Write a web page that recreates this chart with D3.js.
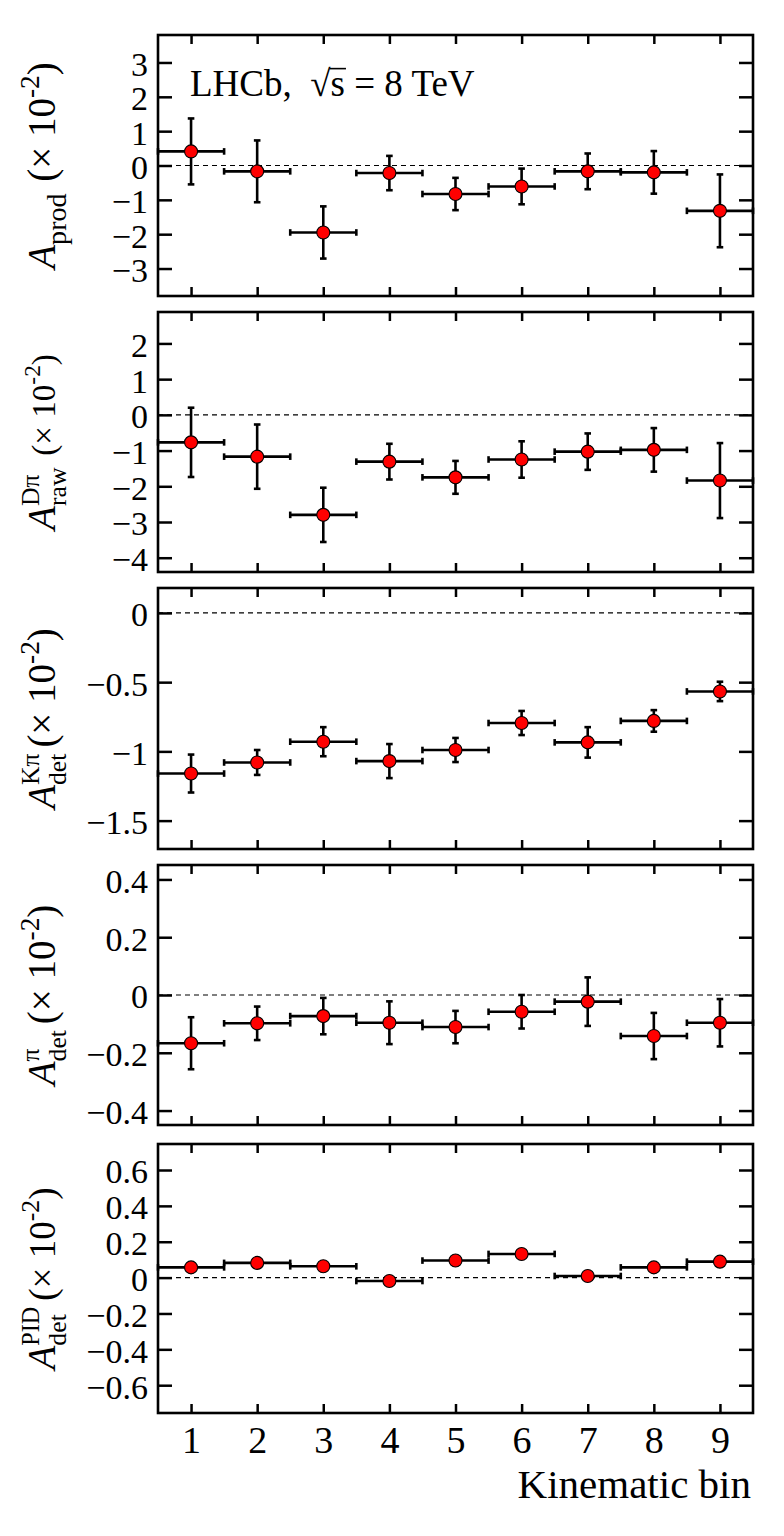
<!DOCTYPE html>
<html>
<head>
<meta charset="utf-8">
<script src="https://cdn.jsdelivr.net/npm/d3@7"></script>
<style>
  html, body { margin: 0; padding: 0; background: #fff; }
  svg text { white-space: pre; font-family: 'Liberation Serif', 'Times New Roman', serif; }
</style>
</head>
<body>
<svg id="chart" width="784" height="1536"></svg>
<script>
// ---------------- DATA ----------------
const bins = [1, 2, 3, 4, 5, 6, 7, 8, 9];
const xTickLabels = ["1", "2", "3", "4", "5", "6", "7", "8", "9"];

const prodVal = [0.41, -0.17, -1.95, -0.22, -0.83, -0.61, -0.17, -0.20, -1.32];
const prodErr = [0.96, 0.90, 0.76, 0.50, 0.47, 0.52, 0.52, 0.62, 1.06];
const prodTicks = [3, 2, 1, 0, -1, -2, -3];

const rawVal = [-0.77, -1.17, -2.80, -1.31, -1.75, -1.25, -1.03, -0.98, -1.84];
const rawErr = [0.97, 0.90, 0.76, 0.50, 0.46, 0.51, 0.51, 0.61, 1.05];
const rawTicks = [2, 1, 0, -1, -2, -3, -4];

const kpiVal = [-1.16, -1.08, -0.93, -1.07, -0.99, -0.795, -0.935, -0.78, -0.567];
const kpiErr = [0.137, 0.090, 0.105, 0.123, 0.087, 0.087, 0.110, 0.078, 0.070];
const kpiTicks = [0, -0.5, -1, -1.5];

const piVal = [-0.167, -0.098, -0.073, -0.096, -0.111, -0.058, -0.023, -0.142, -0.096];
const piErr = [0.090, 0.058, 0.063, 0.074, 0.056, 0.058, 0.084, 0.080, 0.082];
const piTicks = [0.4, 0.2, 0, -0.2, -0.4];

const pidVal = [0.057, 0.082, 0.063, -0.019, 0.095, 0.132, 0.009, 0.057, 0.089];
const pidErr = [0.020, 0.020, 0.020, 0.020, 0.020, 0.020, 0.020, 0.020, 0.020];
const pidTicks = [0.6, 0.4, 0.2, 0, -0.2, -0.4, -0.6];

const binHalfWidth = 0.5;

// ---------------- LAYOUT ----------------
const FONT = "'Liberation Serif', 'Times New Roman', serif";
const svg = d3.select("#chart");
const xL = 158, xR = 753;
const x = d3.scaleLinear().domain([0.5, 9.5]).range([xL, xR]);

const minus = s => s.replace("-", "\u2212");
const fmt = v => minus(String(v));

const panels = [
  { val: prodVal, err: prodErr, ticks: prodTicks, dom: [-3.8, 3.8], top: 35, bot: 296,
    title: [{t:"A", it:true}, {t:"prod", sc:0.72, dy:0.28}, {gap:0.3}, {t:"(\u00d7 10"}, {t:"-2", sc:0.7, dy:-0.42}, {t:")"}] },
  { val: rawVal, err: rawErr, ticks: rawTicks, dom: [-4.4, 2.88], top: 312, bot: 572,
    title: [{t:"A", it:true}, {t:"D\u03c0", sc:0.66, dy:-0.42}, {t:"raw", sc:0.66, dy:0.28, stack:true}, {gap:0.3}, {t:"(\u00d7 10", sc:0.85}, {t:"-2", sc:0.6, dy:-0.38}, {t:")", sc:0.85}] },
  { val: kpiVal, err: kpiErr, ticks: kpiTicks, dom: [-1.705, 0.18], top: 588, bot: 849,
    title: [{t:"A", it:true}, {t:"K\u03c0", sc:0.66, dy:-0.42}, {t:"det", sc:0.66, dy:0.28, stack:true}, {gap:0.15}, {t:"(\u00d7 10"}, {t:"-2", sc:0.7, dy:-0.42}, {t:")"}] },
  { val: piVal, err: piErr, ticks: piTicks, dom: [-0.45, 0.45], top: 865, bot: 1125,
    title: [{t:"A", it:true}, {t:"\u03c0", sc:0.66, dy:-0.42}, {t:"det", sc:0.66, dy:0.28, stack:true}, {gap:0.15}, {t:"(\u00d7 10"}, {t:"-2", sc:0.7, dy:-0.42}, {t:")"}] },
  { val: pidVal, err: pidErr, ticks: pidTicks, dom: [-0.755, 0.745], top: 1144, bot: 1413,
    title: [{t:"A", it:true}, {t:"PID", sc:0.62, dy:-0.42}, {t:"det", sc:0.66, dy:0.28, stack:true}, {gap:0.15}, {t:"(\u00d7 10", sc:0.95}, {t:"-2", sc:0.66, dy:-0.42}, {t:")", sc:0.95}] }
];

// inline rich-text layout helper; returns total width
function layout(g, segs, base) {
  let cur = 0, lastStart = 0, lastEnd = 0;
  segs.forEach(s => {
    if (s.gap !== undefined) { cur += s.gap * base; lastStart = cur; lastEnd = cur; return; }
    const fs = base * (s.sc || 1);
    const t = g.append("text")
      .attr("font-family", FONT)
      .attr("font-size", fs)
      .attr("font-style", s.it ? "italic" : "normal")
      .attr("y", (s.dy || 0) * base)
      .attr("fill", "#000")
      .text(s.t);
    const w = t.node().getComputedTextLength();
    const x0 = s.stack ? lastStart : cur;
    t.attr("x", x0);
    if (s.over) {
      g.append("line").attr("x1", x0 - 1).attr("x2", x0 + w + 1)
        .attr("y1", (s.dy || 0) * base - 0.74 * fs).attr("y2", (s.dy || 0) * base - 0.74 * fs)
        .attr("stroke", "#000").attr("stroke-width", 1.6);
    }
    if (s.stack) { cur = Math.max(lastEnd, x0 + w); lastEnd = cur; }
    else { lastStart = x0; lastEnd = x0 + w; cur = x0 + w; }
  });
  return cur;
}

panels.forEach((p, pi) => {
  const y = d3.scaleLinear().domain(p.dom).range([p.bot, p.top]);
  const g = svg.append("g");

  // zero reference line
  g.append("line")
    .attr("x1", xL).attr("x2", xR).attr("y1", y(0)).attr("y2", y(0))
    .attr("stroke", "#000").attr("stroke-width", 1.2).attr("stroke-dasharray", "5,4");

  const data = bins.map((b, i) => ({ b, v: p.val[i], e: p.err[i] }));
  const lw = 2.6, cap = 3.3;
  const eb = g.append("g").attr("stroke", "#000").attr("stroke-width", lw).attr("fill", "none");
  data.forEach(d => {
    const cx = x(d.b), cy = y(d.v);
    const xa = x(d.b - binHalfWidth), xb = x(d.b + binHalfWidth);
    const ya = y(d.v + d.e), yb = y(d.v - d.e);
    eb.append("line").attr("x1", xa).attr("x2", xb).attr("y1", cy).attr("y2", cy);
    eb.append("line").attr("x1", cx).attr("x2", cx).attr("y1", ya).attr("y2", yb);
    // caps
    eb.append("line").attr("x1", xa).attr("x2", xa).attr("y1", cy - cap).attr("y2", cy + cap);
    eb.append("line").attr("x1", xb).attr("x2", xb).attr("y1", cy - cap).attr("y2", cy + cap);
    eb.append("line").attr("x1", cx - cap).attr("x2", cx + cap).attr("y1", ya).attr("y2", ya);
    eb.append("line").attr("x1", cx - cap).attr("x2", cx + cap).attr("y1", yb).attr("y2", yb);
  });
  g.selectAll("circle.m").data(data).join("circle")
    .attr("cx", d => x(d.b)).attr("cy", d => y(d.v)).attr("r", 6.5)
    .attr("fill", "#ff0000").attr("stroke", "#000").attr("stroke-width", 1.1);

  // axes
  const isLast = pi === panels.length - 1;
  const yAxL = d3.axisLeft(y).tickValues(p.ticks).tickSize(-14).tickPadding(10).tickFormat(fmt);
  const yAxR = d3.axisRight(y).tickValues(p.ticks).tickSize(-14).tickFormat("");
  const xAxT = d3.axisTop(x).tickValues(bins).tickSize(-9).tickFormat("");
  const xAxB = d3.axisBottom(x).tickValues(bins).tickSize(-9).tickPadding(13)
      .tickFormat(isLast ? (d, i) => xTickLabels[i] : "");

  const axes = [
    g.append("g").attr("transform", `translate(${xL},0)`).call(yAxL),
    g.append("g").attr("transform", `translate(${xR},0)`).call(yAxR),
    g.append("g").attr("transform", `translate(0,${p.top})`).call(xAxT),
    g.append("g").attr("transform", `translate(0,${p.bot})`).call(xAxB)
  ];
  axes.forEach(a => {
    a.attr("font-family", FONT);
    a.select(".domain").remove();
    a.selectAll(".tick line").attr("stroke", "#000").attr("stroke-width", 2.5);
    a.selectAll(".tick text").attr("font-family", FONT).attr("fill", "#000");
  });
  axes[0].attr("font-size", 34).selectAll(".tick text").attr("font-size", 34).attr("dy", "0.38em");
  axes[3].attr("font-size", 38).selectAll(".tick text").attr("font-size", 38);

  // frame
  g.append("rect").attr("x", xL).attr("y", p.top).attr("width", xR - xL).attr("height", p.bot - p.top)
    .attr("fill", "none").attr("stroke", "#000").attr("stroke-width", 2.6);

  // y title (rotated)
  const tg = g.append("g");
  const inner = tg.append("g");
  const w = layout(inner, p.title, 39);
  inner.attr("transform", `translate(${-w / 2},0)`);
  tg.attr("transform", `translate(55,${(p.top + p.bot) / 2}) rotate(-90)`);

  if (pi === 0) {
    const lg = g.append("g").attr("transform", "translate(190,96)");
    layout(lg, [{t:"LHCb,"}, {gap:0.5}, {t:"\u221a"}, {t:"s", over:true}, {t:" = 8 TeV"}], 37);
  }
});

svg.append("text")
  .attr("x", 751).attr("y", 1498)
  .attr("text-anchor", "end")
  .attr("font-family", FONT).attr("font-size", 41).attr("fill", "#000")
  .text("Kinematic bin");
</script>
</body>
</html>
